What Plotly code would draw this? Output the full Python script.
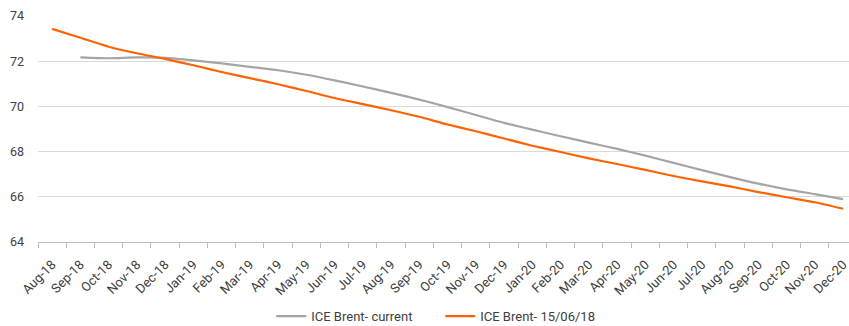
import plotly.graph_objects as go

months = ["Aug-18", "Sep-18", "Oct-18", "Nov-18", "Dec-18",
          "Jan-19", "Feb-19", "Mar-19", "Apr-19", "May-19", "Jun-19",
          "Jul-19", "Aug-19", "Sep-19", "Oct-19", "Nov-19", "Dec-19",
          "Jan-20", "Feb-20", "Mar-20", "Apr-20", "May-20", "Jun-20",
          "Jul-20", "Aug-20", "Sep-20", "Oct-20", "Nov-20", "Dec-20"]

# Forward curve as of today (no Aug-18 contract any more)
brent_current = [None, 72.17, 72.13, 72.17, 72.15,
                 72.04, 71.90, 71.75, 71.60, 71.40, 71.15,
                 70.88, 70.60, 70.30, 69.97, 69.62, 69.27,
                 68.97, 68.68, 68.40, 68.12, 67.82, 67.50,
                 67.18, 66.87, 66.58, 66.33, 66.12, 65.90]

# Forward curve as of 15/06/18
brent_1506 = [73.43, 73.04, 72.64, 72.35, 72.10,
              71.82, 71.52, 71.25, 70.98, 70.68, 70.37,
              70.10, 69.83, 69.54, 69.20, 68.90, 68.58,
              68.26, 67.98, 67.70, 67.45, 67.19, 66.92,
              66.68, 66.46, 66.21, 65.98, 65.76, 65.47]

y_ticks = [64, 66, 68, 70, 72, 74]

font_family = "Roboto, sans-serif"
text_color = "#404040"

fig = go.Figure()
fig.add_trace(go.Scatter(
    x=months, y=brent_current, mode="lines", name="ICE Brent- current",
    line=dict(color="#A5A5A5", width=2.2, shape="spline", smoothing=0.6),
    connectgaps=False,
))
fig.add_trace(go.Scatter(
    x=months, y=brent_1506, mode="lines", name="ICE Brent- 15/06/18",
    line=dict(color="#FF6200", width=2.2, shape="spline", smoothing=0.6),
))

fig.update_layout(
    width=849, height=326,
    margin=dict(l=38, r=0, t=16, b=84, autoexpand=False),
    paper_bgcolor="white", plot_bgcolor="white",
    font=dict(family=font_family, size=12, color=text_color),
    showlegend=True,
    legend=dict(orientation="h", x=0.496, xanchor="center", y=-0.262,
                yanchor="top", font=dict(size=13, color=text_color),
                itemwidth=30, tracegroupgap=0,
                entrywidth=124, entrywidthmode="pixels"),
)
fig.update_xaxes(
    type="category", categoryorder="array", categoryarray=months,
    range=[-0.5, 28.21], tickson="boundaries", ticks="outside",
    ticklen=5, tickcolor="#BFBFBF", tickwidth=1,
    showline=True, linecolor="#BFBFBF", linewidth=1,
    showgrid=False, tickangle=-45, ticklabelstandoff=9, automargin=False,
    tickfont=dict(size=13, color=text_color),
)
fig.update_yaxes(
    range=[64, 74], tickvals=y_ticks, showgrid=True, gridcolor="#D9D9D9",
    gridwidth=1, zeroline=False, showline=False, ticks="", automargin=False,
    ticklabelstandoff=13, tickfont=dict(size=12.5, color=text_color),
)

fig.write_html("out.html")
